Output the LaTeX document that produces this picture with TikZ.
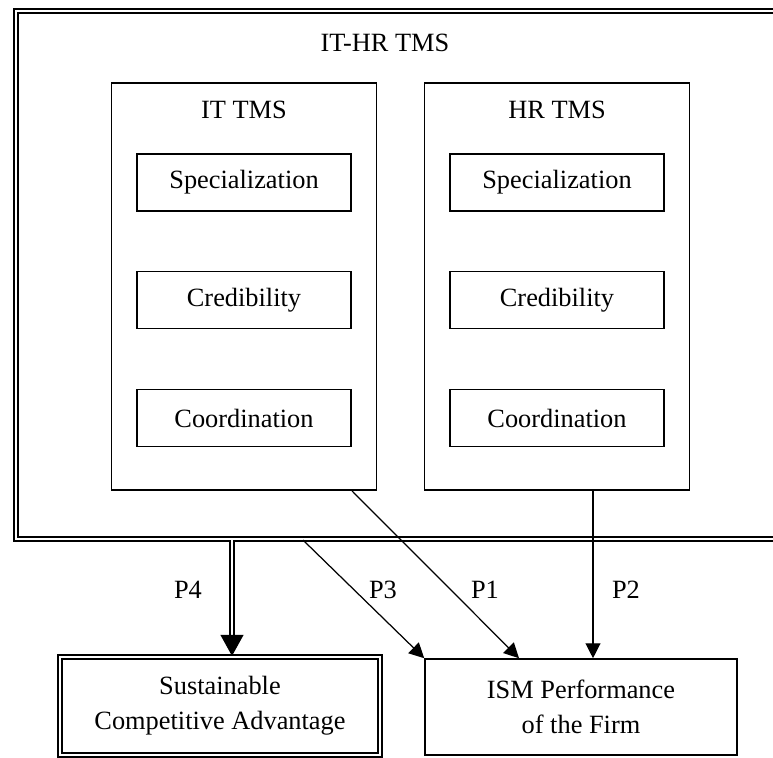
\documentclass[tikz,border=0pt]{standalone}
\usepackage{fontspec}
\setmainfont{Liberation Serif}
\usetikzlibrary{arrows.meta, positioning, calc}
\tikzstyle{system}  = [rectangle, draw, line width=1pt, minimum width=5.3cm,
                        minimum height=8.14cm]
\tikzstyle{factor}  = [rectangle, draw, line width=0.9pt, minimum width=4.28cm,
                        minimum height=1.14cm]
\tikzstyle{dblbox}  = [rectangle, draw, double, line width=1.2pt,
                        double distance=1.1pt]
\tikzstyle{outcome} = [rectangle, draw, line width=0.9pt, align=center]
\tikzstyle{arrow}   = [-{Triangle[length=8.5pt, width=8.5pt]}, line width=0.7pt]
\tikzstyle{dblarrow} = [-{Triangle[length=12pt, width=13pt]}, double,
                        line width=1pt, double distance=1.2pt]
\tikzstyle{plabel}  = [inner sep=0pt]

\begin{document}
\begin{tikzpicture}[font=\fontsize{15}{20}\selectfont]
  \useasboundingbox (0,0) rectangle (15.46,15.14);

  % outer system
  \node[dblbox, minimum width=15.28cm, minimum height=10.56cm] (tms) at (7.96,9.64) {};
  \node (tmstitle) at (7.7,14.28) {IT-HR TMS};

  % IT and HR subsystems
  \node[system] (it) at (4.88,9.41) {};
  \node[system] (hr) at (11.14,9.41) {};
  \node (ittitle) at (4.88,12.94) {IT TMS};
  \node (hrtitle) at (11.14,12.94) {HR TMS};

  \node[factor] (itspec) at (4.88,11.49) {Specialization};
  \node[factor] (itcred) at (4.88,9.14) {Credibility};
  \node[factor] (itcoor) at (4.88,6.78) {Coordination};
  \node[factor] (hrspec) at (11.14,11.49) {Specialization};
  \node[factor] (hrcred) at (11.14,9.14) {Credibility};
  \node[factor] (hrcoor) at (11.14,6.78) {Coordination};

  % outcomes
  \node[dblbox, align=center, minimum width=6.4cm, minimum height=1.96cm]
    (sca) at (4.4,1.02) {Sustainable\\Competitive Advantage};
  \node[outcome, minimum width=6.24cm, minimum height=1.92cm]
    (ism) at (11.62,1.0) {ISM Performance\\of the Firm};

  % propositions
  \draw[dblarrow] ([xshift=0.24cm]sca.north |- tms.south) -- ([xshift=0.24cm]sca.north);
  \draw[arrow] ([xshift=-1.9cm]tms.south) -- (ism.north west);
  \draw[arrow] ([xshift=2.16cm]it.south) -- ([xshift=-1.24cm]ism.north);
  \draw[arrow] ([xshift=0.72cm]hr.south) -- ([xshift=0.72cm]hr.south |- ism.north);

  \node[plabel] (p4) at (3.76,3.34) {P4};
  \node[plabel] (p3) at (7.66,3.34) {P3};
  \node[plabel] (p1) at (9.7,3.34) {P1};
  \node[plabel] (p2) at (12.52,3.34) {P2};
\end{tikzpicture}
\end{document}
